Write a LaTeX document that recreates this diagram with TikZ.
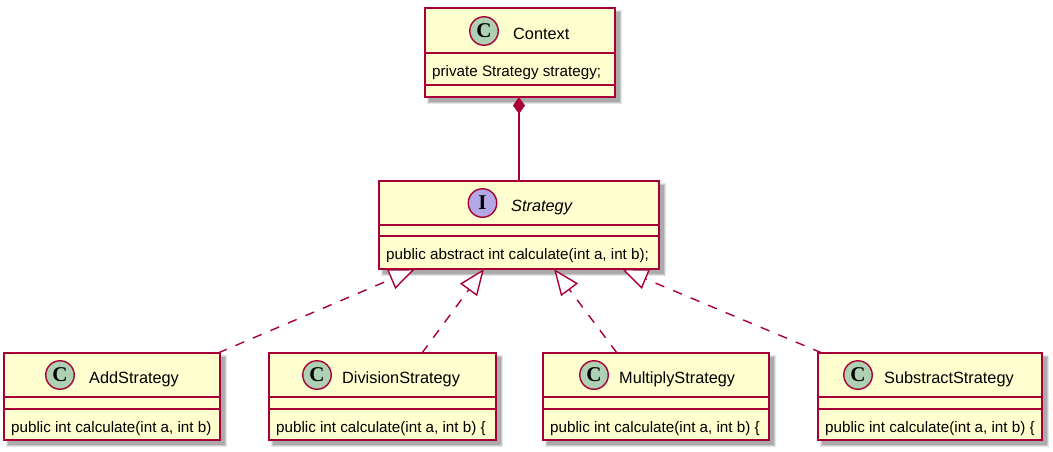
\documentclass[tikz,border=0pt]{standalone}
\usepackage{fontspec}
\setmainfont{Liberation Sans}
\newfontfamily\glyphfont{Liberation Serif}
\usetikzlibrary{arrows.meta,calc}
\definecolor{umlborder}{HTML}{A80036}
\definecolor{umlfill}{HTML}{FEFECE}
\definecolor{clscirc}{HTML}{ADD1B2}
\definecolor{ifccirc}{HTML}{B4A7E5}
\tikzset{
  classbox/.style={draw=umlborder, fill=umlfill, line width=2pt, rectangle, inner sep=0pt, outer sep=0pt, anchor=north west},
  sepline/.style={draw=umlborder, line width=2pt},
  titletext/.style={anchor=base west, inner sep=0pt, font=\fontsize{16.3}{18}\selectfont},
  membertext/.style={anchor=base west, inner sep=0pt, font=\fontsize{15.2}{17}\selectfont},
  spot/.style={circle, draw=umlborder, line width=1.4pt, minimum size=28.5pt, inner sep=0pt, font=\glyphfont\bfseries\fontsize{21}{21}\selectfont},
  classspot/.style={spot, fill=clscirc},
  ifcspot/.style={spot, fill=ifccirc},
  conn/.style={draw=umlborder, line width=1.4pt},
  realize/.style={conn, dash pattern=on 9.5pt off 9.5pt, -{Triangle[length=26pt,width=21pt,fill=white]}},
  compose/.style={conn, -{Diamond[length=17pt,width=12pt,fill=umlborder]}},
  shadowfill/.style={fill=black, opacity=#1},
}
\newcommand\umlclass[7]{%
  \fill[shadowfill=0.10] (#2+2,#3+2) rectangle (#4+7,#5+7);
  \fill[shadowfill=0.12] (#2+3,#3+3) rectangle (#4+6,#5+6);
  \fill[shadowfill=0.15] (#2+4,#3+4) rectangle (#4+5,#5+5);
  \node[classbox, minimum width={#4pt-#2pt}, minimum height={#5pt-#3pt}] (#1) at (#2,#3) {};
  \draw[sepline] (#2,#6) -- (#4,#6);
  \draw[sepline] (#2,#7) -- (#4,#7);
}
\begin{document}
\begin{tikzpicture}[x=1pt,y=-1pt]
\useasboundingbox (0,0) rectangle (1053,451);
% classes
\umlclass{ctx}{425}{8}{615}{97}{53}{85}
\umlclass{strat}{379}{181}{659}{269}{225}{236}
\umlclass{add}{4}{353}{220}{440}{397}{409}
\umlclass{div}{269}{353}{496}{440}{397}{409}
\umlclass{mul}{543}{353}{769}{440}{397}{409}
\umlclass{sub}{818}{353}{1042}{440}{397}{409}
% spots
\node[classspot] (ctxspot) at (484,31) {C};
\node[ifcspot] (stratspot) at (482.5,203) {I};
\node[classspot] (addspot) at (60,375) {C};
\node[classspot] (divspot) at (317,375) {C};
\node[classspot] (mulspot) at (594,375) {C};
\node[classspot] (subspot) at (858,375) {C};
% titles
\node[titletext] (ctxname) at (513,39) {Context};
\node[titletext] (stratname) at (511,211) {\itshape Strategy};
\node[titletext] (addname) at (89,383) {AddStrategy};
\node[titletext] (divname) at (342,383) {DivisionStrategy};
\node[titletext] (mulname) at (619,383) {MultiplyStrategy};
\node[titletext] (subname) at (884,383) {SubstractStrategy};
% members
\node[membertext] (ctxattr) at (432,76) {private Strategy strategy;};
\node[membertext] (stratop) at (386,259) {public abstract int calculate(int a, int b);};
\node[membertext] (addop) at (11,432) {public int calculate(int a, int b)};
\node[membertext] (divop) at (276,432) {public int calculate(int a, int b) \{};
\node[membertext] (mulop) at (550,432) {public int calculate(int a, int b) \{};
\node[membertext] (subop) at (825,432) {public int calculate(int a, int b) \{};
% connectors
\draw[compose] (strat.north) -- (strat.north |- ctx.south);
\draw[realize] ($(add.north east)+(-2,0)$) -- ($(strat.south west)+(36,0)$);
\draw[realize] ($(div.north west)+(153,0)$) -- ($(strat.south west)+(105,0)$);
\draw[realize] ($(mul.north west)+(74,0)$) -- ($(strat.south west)+(175,0)$);
\draw[realize] ($(sub.north west)+(4,0)$) -- ($(strat.south west)+(243,0)$);
\end{tikzpicture}
\end{document}
